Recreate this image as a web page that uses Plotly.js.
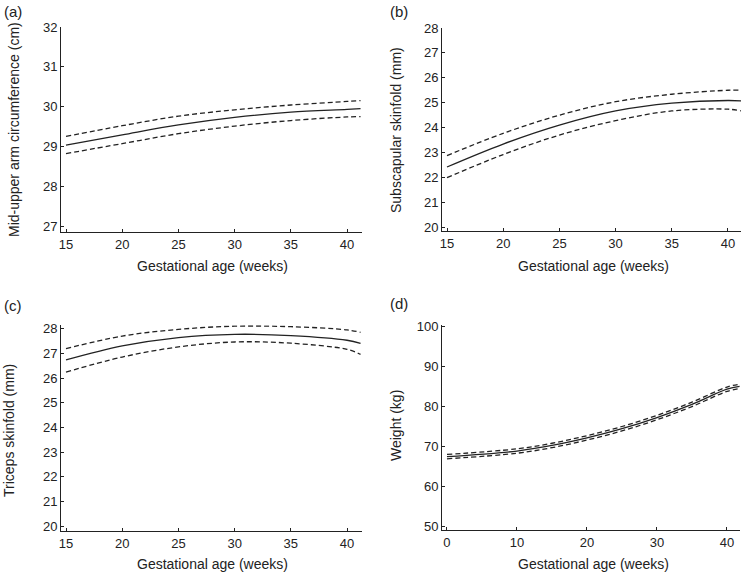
<!DOCTYPE html>
<html>
<head>
<meta charset="utf-8">
<script src="https://cdn.plot.ly/plotly-3.0.1.min.js"></script>
<style>
  html, body { margin: 0; padding: 0; background: #fff; }
  #chart { width: 746px; height: 572px; }
</style>
</head>
<body>
<div id="chart"></div>
<script>
// Panel (a): Mid-upper arm circumference (cm)
const weeksA = [15, 20, 25, 30, 35, 40, 41.2];
const muacMean = [29.03, 29.29, 29.54, 29.73, 29.86, 29.93, 29.95];
const muacUpper = [29.25, 29.52, 29.76, 29.92, 30.04, 30.13, 30.15];
const muacLower = [28.82, 29.07, 29.32, 29.51, 29.65, 29.74, 29.75];

// Panel (b): Subscapular skinfold (mm)
const weeksB = [15, 20, 25, 30, 35, 40, 41.2];
const subMean = [22.42, 23.34, 24.1, 24.67, 24.98, 25.09, 25.07];
const subUpper = [22.88, 23.77, 24.5, 25.04, 25.34, 25.5, 25.5];
const subLower = [21.99, 22.92, 23.7, 24.28, 24.67, 24.74, 24.67];

// Panel (c): Triceps skinfold (mm)
const weeksC = [15, 20, 25, 30, 35, 40, 41.2];
const triMean = [26.73, 27.3, 27.64, 27.77, 27.72, 27.53, 27.4];
const triUpper = [27.19, 27.7, 27.97, 28.1, 28.08, 27.95, 27.85];
const triLower = [26.24, 26.85, 27.26, 27.46, 27.41, 27.16, 26.96];

// Panel (d): Weight (kg)
const weeksD = [0, 10, 15, 20, 25, 30, 35, 40, 41.8];
const wtMean = [67.4, 68.8, 70.2, 72.1, 74.4, 77.2, 80.5, 84.3, 85.0];
const wtUpper = [67.95, 69.35, 70.75, 72.65, 74.95, 77.75, 81.05, 84.85, 85.55];
const wtLower = [66.85, 68.25, 69.65, 71.55, 73.85, 76.65, 79.95, 83.75, 84.45];

const xTitle = 'Gestational age (weeks)';
const yTitles = ['Mid-upper arm circumference (cm)', 'Subscapular skinfold (mm)', 'Triceps skinfold (mm)', 'Weight (kg)'];
const panelLabels = ['(a)', '(b)', '(c)', '(d)'];

const FONT = 'Liberation Sans, Arial, Helvetica, sans-serif';
const INK = '#222';

function band(x, mean, up, lo, xa, ya) {
  const base = { x: x, mode: 'lines', xaxis: xa, yaxis: ya, hoverinfo: 'skip', showlegend: false };
  return [
    Object.assign({}, base, { y: up, line: { color: INK, width: 1.3, dash: '5px,3px', shape: 'spline' } }),
    Object.assign({}, base, { y: mean, line: { color: INK, width: 1.3, shape: 'spline' } }),
    Object.assign({}, base, { y: lo, line: { color: INK, width: 1.3, dash: '5px,3px', shape: 'spline' } })
  ];
}

const data = [].concat(
  band(weeksA, muacMean, muacUpper, muacLower, 'x', 'y'),
  band(weeksB, subMean, subUpper, subLower, 'x2', 'y2'),
  band(weeksC, triMean, triUpper, triLower, 'x3', 'y3'),
  band(weeksD, wtMean, wtUpper, wtLower, 'x4', 'y4')
);

function axis(domain, range, anchor, dtick) {
  return {
    domain: domain, range: range, anchor: anchor,
    showline: true, linecolor: INK, linewidth: 1,
    ticks: 'inside', ticklen: 3, tickcolor: INK, tickwidth: 1,
    showgrid: false, zeroline: false,
    dtick: dtick, tick0: 0,
    tickfont: { family: FONT, size: 13, color: INK }
  };
}

const W = 746, H = 572;
const px = v => v / W;
const py = v => 1 - v / H;

const titleFont = { family: FONT, size: 14, color: INK };
function xTitleAnn(cx, cy) {
  return { text: xTitle, x: px(cx), y: py(cy), xref: 'paper', yref: 'paper',
    xanchor: 'center', yanchor: 'middle', showarrow: false, font: titleFont };
}
function yTitleAnn(text, cx, cy) {
  return { text: text, x: px(cx), y: py(cy), xref: 'paper', yref: 'paper', textangle: -90,
    xanchor: 'center', yanchor: 'middle', showarrow: false, font: titleFont };
}
function panelAnn(text, lx, cy) {
  return { text: text, x: px(lx), y: py(cy), xref: 'paper', yref: 'paper',
    xanchor: 'left', yanchor: 'middle', showarrow: false,
    font: { family: FONT, size: 15, color: INK } };
}

const layout = {
  width: W, height: H,
  margin: { l: 0, r: 0, t: 0, b: 0 },
  paper_bgcolor: '#fff', plot_bgcolor: '#fff',
  showlegend: false,
  font: { family: FONT, color: INK },
  xaxis:  axis([px(61), px(362)], [14.555, 41.33], 'y', 5),
  yaxis:  axis([py(232), py(27)], [26.85, 32], 'x', 1),
  xaxis2: axis([px(442), px(741)], [14.555, 41.16], 'y2', 5),
  yaxis2: axis([py(231), py(28)], [19.85, 28], 'x2', 1),
  xaxis3: axis([px(61), px(362)], [14.555, 41.33], 'y3', 5),
  yaxis3: axis([py(531), py(325.2)], [19.8, 28.14], 'x3', 1),
  xaxis4: axis([px(442), px(740)], [-0.71, 41.86], 'y4', 10),
  yaxis4: axis([py(530), py(325)], [49, 100.4], 'x4', 10),
  annotations: [
    panelAnn(panelLabels[0], 2, 12),
    panelAnn(panelLabels[1], 388, 12),
    panelAnn(panelLabels[2], 2, 305),
    panelAnn(panelLabels[3], 388, 303),
    xTitleAnn(212, 266),
    xTitleAnn(593, 266),
    xTitleAnn(212, 564),
    xTitleAnn(593, 564),
    yTitleAnn(yTitles[0], 14, 130),
    yTitleAnn(yTitles[1], 396, 130),
    yTitleAnn(yTitles[2], 9, 431),
    yTitleAnn(yTitles[3], 396, 426)
  ]
};

Plotly.newPlot('chart', data, layout, { staticPlot: true, displayModeBar: false });
</script>
</body>
</html>
